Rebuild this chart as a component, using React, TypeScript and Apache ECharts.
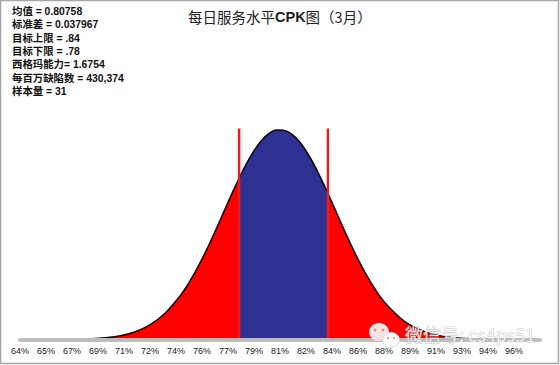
import React, { useEffect, useRef } from "react";
import * as echarts from "echarts";

const title = ["每日服务水平", "CPK", "图（3月）"];
const statLines = [
  "均值 = 0.80758",
  "标准差 = 0.037967",
  "目标上限 = .84",
  "目标下限 = .78",
  "西格玛能力= 1.6754",
  "每百万缺陷数 = 430,374",
  "样本量 = 31",
];
const tickLabels = ["64%", "65%", "67%", "69%", "71%", "72%", "74%", "76%", "77%", "79%", "81%", "82%", "84%", "86%", "88%", "89%", "91%", "93%", "94%", "96%"];
const curveX = [64, 66, 67, 68, 69, 70, 71, 72, 73, 74, 74.5, 75, 75.5, 76, 76.5, 77, 77.5, 78, 78.5, 79, 79.5, 80, 80.5, 81, 81.5, 82, 82.5, 83, 83.5, 84, 84.5, 85, 85.5, 86, 86.5, 87, 87.5, 88, 89, 90, 91, 92, 93, 94, 95, 96, 97, 98];
const curveY = [0, 0.006, 0.015, 0.037, 0.087, 0.19, 0.39, 0.74, 1.31, 2.16, 2.7, 3.33, 4.03, 4.79, 5.6, 6.44, 7.27, 8.06, 8.8, 9.43, 9.94, 10.29, 10.48, 10.46, 10.3, 9.96, 9.45, 8.83, 8.09, 7.3, 6.47, 5.63, 4.82, 4.06, 3.36, 2.73, 2.17, 1.71, 1.0, 0.55, 0.28, 0.13, 0.059, 0.024, 0.009, 0.003, 0.001, 0];
const lowerLimit = 78;
const upperLimit = 84;
const limitTop = 10.55;

const tickStep = 1.7557;
const axisMin = tickStep * 36;
const axisMax = tickStep * 56;

const pairs = curveX.map((x, i) => [x, curveY[i]]);
const area = (color: string, data: number[][]) => ({
  type: "line",
  data,
  smooth: 0.3,
  symbol: "none",
  silent: true,
  lineStyle: { width: 0 },
  areaStyle: { color, opacity: 1 },
});
const limit = (x: number) => ({
  type: "line",
  data: [[x, 0], [x, limitTop]],
  symbol: "none",
  silent: true,
  lineStyle: { color: "#e01f26", width: 2.5 },
});

export default function App() {
  const ref = useRef<HTMLDivElement>(null);
  useEffect(() => {
    const chart = echarts.init(ref.current!, null, { renderer: "svg" });
    chart.setOption({
      animation: false,
      backgroundColor: "#fff",
      title: {
        left: 183,
        top: 4,
        text: `{a|${title[0]}}{b|${title[1]}}{a|${title[2]}}`,
        textStyle: {
          fontWeight: "normal",
          rich: {
            a: { fontFamily: "Noto Sans CJK SC", fontWeight: "normal", fontSize: 14.5, color: "#222" },
            b: { fontFamily: "Liberation Sans", fontWeight: "bold", fontSize: 14.5, color: "#222" },
          },
        },
      },
      grid: { left: 20, right: 20, top: 99.5, bottom: 25.5 },
      xAxis: {
        type: "value",
        min: axisMin,
        max: axisMax,
        interval: tickStep,
        z: 5,
        splitLine: { show: false },
        axisTick: { show: false },
        offset: 1.2,
        axisLine: { show: true, lineStyle: { color: "#bdbdbd", width: 4, type: [2, 1] } },
        axisLabel: {
          showMaxLabel: false,
          hideOverlap: false,
          margin: 6,
          color: "#222",
          fontSize: 9,
          fontFamily: "Liberation Sans",
          formatter: (v: number) => tickLabels[Math.round((v - axisMin) / tickStep)] ?? "",
        },
      },
      yAxis: { type: "value", min: 0, max: 12, show: false },
      series: [
        area("#ff0000", pairs.filter((p) => p[0] <= lowerLimit)),
        area("#2e3192", pairs.filter((p) => p[0] >= lowerLimit && p[0] <= upperLimit)),
        area("#ff0000", pairs.filter((p) => p[0] >= upperLimit)),
        {
          type: "line",
          data: pairs,
          smooth: 0.3,
          symbol: "none",
          silent: true,
          lineStyle: { color: "#000", width: 1.5 },
        },
        limit(lowerLimit),
        limit(upperLimit),
      ],
      graphic: [
        { type: "rect", shape: { x: 0.5, y: 0.5, width: 558, height: 363 }, style: { fill: "none", stroke: "#a6a6a6", lineWidth: 1.5 }, silent: true },
        ...statLines.map((t, i) => ({
          type: "text",
          x: 12,
          y: 6 + i * 13.4,
          style: { text: t, fill: "#111", font: "bold 10.4px 'Liberation Sans', 'Noto Sans CJK SC'" },
        })),
        { type: "ellipse", z: 10, shape: { cx: 379, cy: 332, rx: 10, ry: 9 }, style: { fill: "#fbe3e3" } },
        { type: "circle", z: 10, shape: { cx: 375, cy: 330, r: 1.4 }, style: { fill: "#d88" } },
        { type: "circle", z: 10, shape: { cx: 383, cy: 330, r: 1.4 }, style: { fill: "#d88" } },
        { type: "ellipse", z: 10, shape: { cx: 391, cy: 340, rx: 8.5, ry: 7.5 }, style: { fill: "#ffffff", stroke: "#ddd0d0", lineWidth: 1 } },
        { type: "circle", z: 10, shape: { cx: 388, cy: 338, r: 1 }, style: { fill: "#d88" } },
        { type: "circle", z: 10, shape: { cx: 394, cy: 338, r: 1 }, style: { fill: "#d88" } },
        {
          type: "text",
          z: 10,
          x: 405,
          y: 325,
          style: { text: "微信号: cs4ps51", fill: "rgba(255,255,255,0.8)", stroke: "#a8a8a8", lineWidth: 0.6, font: "18px 'Noto Sans CJK SC'" },
        },
      ],
    });
    return () => chart.dispose();
  }, []);
  return <div ref={ref} style={{ position: "absolute", left: 0, top: 0, width: 560, height: 365 }} />;
}
